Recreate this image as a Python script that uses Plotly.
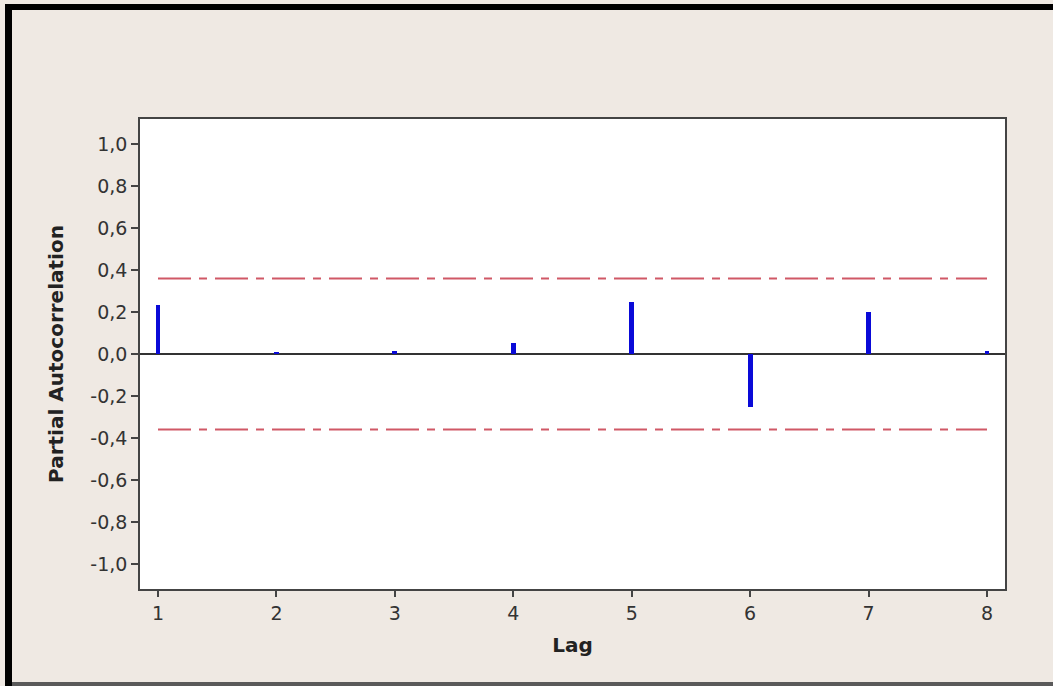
import plotly.graph_objects as go

# Partial autocorrelation by lag
lags = [1, 2, 3, 4, 5, 6, 7, 8]
pacf = [0.233, 0.006, 0.015, 0.052, 0.249, -0.251, 0.201, 0.015]
conf_limit = 0.36

y_tick_vals = [1.0, 0.8, 0.6, 0.4, 0.2, 0.0, -0.2, -0.4, -0.6, -0.8, -1.0]
y_tick_text = ["1,0", "0,8", "0,6", "0,4", "0,2", "0,0",
               "-0,2", "-0,4", "-0,6", "-0,8", "-1,0"]

W, H = 1053, 686
L, R, T, B = 140, 48, 119, 97
pw, ph = W - L - R, H - T - B


def px_x(x):
    return (x - L) / pw


def px_y(y):
    return (H - B - y) / ph


fig = go.Figure()

# PACF spikes
fig.add_trace(go.Bar(
    x=lags, y=pacf, width=0.04,
    marker=dict(color="#0a0ad8", line=dict(width=0)),
    hoverinfo="x+y",
))

# significance limits
for lim in (conf_limit, -conf_limit):
    fig.add_trace(go.Scatter(
        x=[lags[0], lags[-1]], y=[lim, lim], mode="lines",
        line=dict(color="#d05866", width=2, dash="33px,8px,8px,8px"),
        hoverinfo="skip",
    ))

# window frame around the graph
frame = [
    (5, 4, 12, 686, "#000000"),
    (5, 4, 1053, 10, "#000000"),
    (12, 682, 1053, 686, "#5a5a5a"),
]
shapes = []
for x0, y0, x1, y1, c in frame:
    shapes.append(dict(type="rect", xref="paper", yref="paper",
                       x0=px_x(x0), x1=px_x(x1), y0=px_y(y0), y1=px_y(y1),
                       fillcolor=c, line=dict(width=0), layer="above"))

font = "DejaVu Sans, Verdana, sans-serif"

fig.update_layout(
    width=W, height=H,
    margin=dict(l=L, r=R, t=T, b=B, pad=0),
    paper_bgcolor="#efe9e3",
    plot_bgcolor="#ffffff",
    showlegend=False,
    bargap=0,
    shapes=shapes,
    font=dict(family=font, size=19, color="#333333"),
    xaxis=dict(
        range=[0.848, 8.152],
        tickvals=lags, ticktext=[str(v) for v in lags],
        ticks="outside", ticklen=6, tickwidth=1.5, tickcolor="#444444",
        showgrid=False, zeroline=False,
        showline=True, linecolor="#444444", linewidth=1.5, mirror=True,
        title=dict(text="<b>Lag</b>", font=dict(size=20, color="#222222"),
                   standoff=15),
    ),
    yaxis=dict(
        range=[-1.119, 1.119],
        tickvals=y_tick_vals, ticktext=y_tick_text,
        ticks="outside", ticklen=7, tickwidth=1.5, tickcolor="#444444",
        showgrid=False,
        zeroline=True, zerolinecolor="#333333", zerolinewidth=1.5,
        showline=True, linecolor="#444444", linewidth=1.5, mirror=True,
        title=dict(text="<b>Partial Autocorrelation</b>",
                   font=dict(size=20, color="#222222"), standoff=21),
    ),
)

fig.write_html("out.html")
